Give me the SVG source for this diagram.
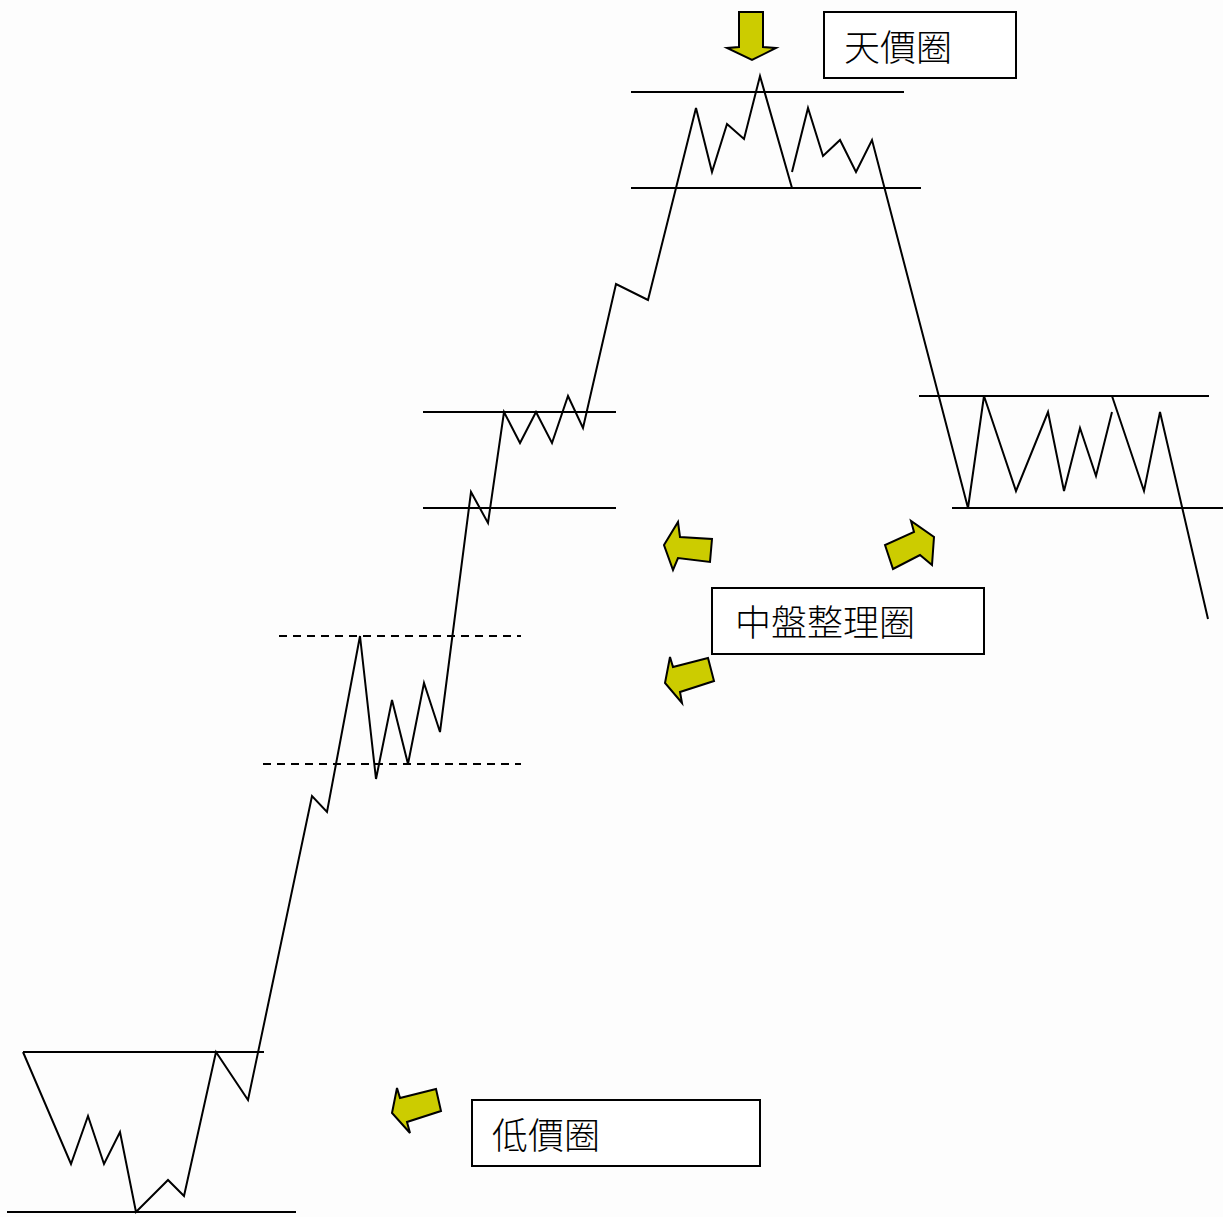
<svg xmlns="http://www.w3.org/2000/svg" width="1223" height="1217" viewBox="0 0 1223 1217">
<style>
.ln{fill:none;stroke:#000;stroke-width:2;stroke-linejoin:miter}
.dash{fill:none;stroke:#000;stroke-width:2;stroke-dasharray:8 6}
.arr{fill:#CCCC00;stroke:#000;stroke-width:2;stroke-linejoin:miter}
.box{fill:#fff;stroke:#000;stroke-width:2}
.lbl{font-family:"Noto Sans CJK TC","Noto Sans CJK SC",sans-serif;font-size:36px;font-weight:300;fill:#000}
</style>
<rect width="1223" height="1217" fill="#fdfdfd"/>
<g id="connectors">
  <line class="ln" x1="631" y1="92" x2="904" y2="92"/>
  <line class="ln" x1="631" y1="188" x2="921" y2="188"/>
  <line class="ln" x1="423" y1="412" x2="616" y2="412"/>
  <line class="ln" x1="423" y1="508" x2="616" y2="508"/>
  <line class="dash" x1="279" y1="636" x2="521" y2="636"/>
  <line class="dash" x1="263" y1="764" x2="521" y2="764"/>
  <line class="ln" x1="919" y1="396" x2="1209" y2="396"/>
  <line class="ln" x1="952" y1="508" x2="1223" y2="508"/>
  <line class="ln" x1="23" y1="1052" x2="264" y2="1052"/>
  <line class="ln" x1="7" y1="1212" x2="296" y2="1212"/>
  <polyline class="ln" points="23,1052 71,1164 88,1116 104,1164 120,1132 136,1212 168,1180 184,1196 216,1052 248,1100 312,796 327,812 360,636 376,779 392,700 408,764 424,683 440,732 471,492 488,523 504,412 520,443 536,412 552,443 568,396 583,428 616,284 648,300 696,108 712,172 727,124 744,139 760,76 792,188"/>
  <polyline class="ln" points="792,172 808,108 823,156 840,140 856,172 872,140 968,508 984,396 1016,491 1048,412 1064,491 1080,428 1096,476 1112,412"/>
  <polyline class="ln" points="1112,396 1144,491 1160,412 1208,619"/>
</g>
<g id="arrow-top">
  <polygon class="arr" points="739,12 763,12 763,47 776,48 752,60 727,48 739,47"/>
</g>
<g id="arrow-mid-1">
  <polygon class="arr" points="664,545 678,522 680,537 712,539 710,562 678,558 673,570"/>
</g>
<g id="arrow-mid-2">
  <polygon class="arr" points="885,545 893,569 920,555 932,565 934,537 911,521 914,532"/>
</g>
<g id="arrow-mid-3">
  <polygon class="arr" points="665,683 670,657 673,667 708,658 714,681 680,692 682,703"/>
</g>
<g id="arrow-low">
  <polygon class="arr" points="392,1113 397,1088 400,1098 436,1089 441,1111 407,1122 410,1133"/>
</g>
<g id="box-top">
  <rect class="box" x="824" y="12" width="192" height="66"/>
  <text class="lbl" x="844" y="61">天價圈</text>
</g>
<g id="box-mid">
  <rect class="box" x="712" y="588" width="272" height="66"/>
  <text class="lbl" x="735" y="636">中盤整理圈</text>
</g>
<g id="box-low">
  <rect class="box" x="472" y="1100" width="288" height="66"/>
  <text class="lbl" x="492" y="1149">低價圈</text>
</g>
</svg>
